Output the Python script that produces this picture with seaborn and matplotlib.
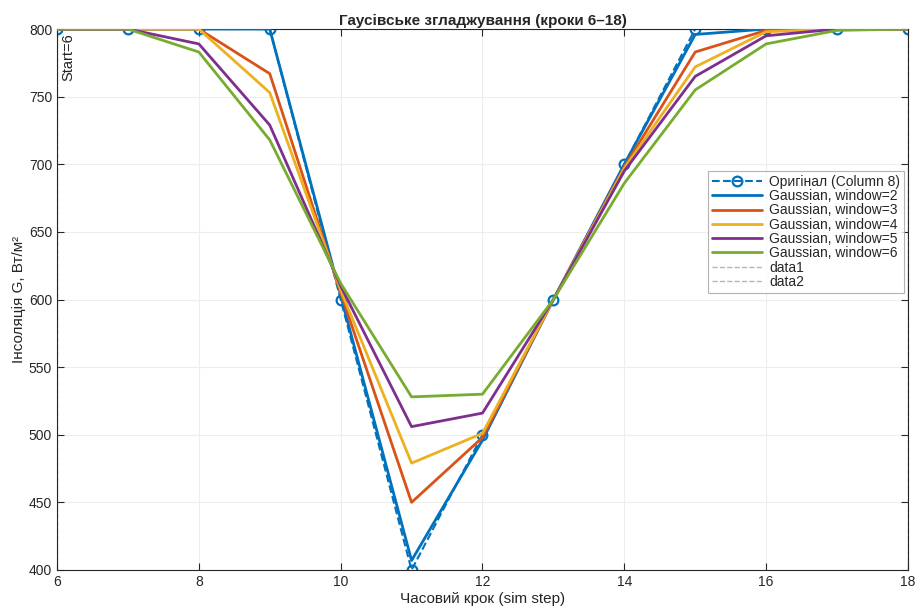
import matplotlib
matplotlib.use("Agg")
import matplotlib.pyplot as plt
import seaborn as sns

# Simulation steps and irradiance (W/m^2)
steps = [6, 7, 8, 9, 10, 11, 12, 13, 14, 15, 16, 17, 18]
original = [800, 800, 800, 800, 600, 400, 500, 600, 700, 800, 800, 800, 800]
gauss_w2 = [800, 800, 800, 800, 603, 407, 496, 600, 700, 796, 800, 800, 800]
gauss_w3 = [800, 800, 800, 767, 605, 450, 498, 600, 698, 783, 799, 800, 800]
gauss_w4 = [800, 800, 800, 753, 607, 479, 501, 600, 697, 772, 798, 800, 800]
gauss_w5 = [800, 800, 789, 729, 610, 506, 516, 600, 695, 765, 795, 800, 800]
gauss_w6 = [800, 800, 783, 718, 612, 528, 530, 600, 686, 755, 789, 799, 800]
windows = [2, 3, 4, 5, 6]
smoothed = [gauss_w2, gauss_w3, gauss_w4, gauss_w5, gauss_w6]
start_step = 6
end_step = 18

colors = ["#0072BD", "#D95319", "#EDB120", "#7E2F8E", "#77AC30"]

sns.set_style("ticks")
plt.rcParams["font.family"] = ["Liberation Sans", "DejaVu Sans"]

fig = plt.figure(figsize=(9.15, 6.1), dpi=100)
ax = fig.add_axes([0.0623, 0.0656, 0.930, 0.8868])

# raw series underneath, smoothed curves on top
sns.lineplot(x=steps, y=original, ax=ax, color=colors[0], linestyle="--",
             linewidth=1.5, marker="o", markersize=7, markerfacecolor="none",
             markeredgecolor=colors[0], markeredgewidth=1.6, zorder=2,
             label="Оригінал (Column 8)")
for w, vals, c in zip(windows, smoothed, colors):
    sns.lineplot(x=steps, y=vals, ax=ax, color=c, linewidth=2.0,
                 label=f"Gaussian, window={w}", zorder=3)

ax.axvline(start_step, color="#b5b5b5", linestyle="--", linewidth=1.0,
           label="data1", zorder=1)
ax.axvline(end_step, color="#b5b5b5", linestyle="--", linewidth=1.0,
           label="data2", zorder=1)
ax.annotate(f"Start={start_step}", xy=(start_step, 797), xytext=(3, 0),
            textcoords="offset points", rotation=90, ha="left", va="top",
            fontsize=10.5, color="#222222")

ax.set_xlim(6, 18)
ax.set_ylim(400, 800)
ax.set_xticks(range(6, 19, 2))
ax.set_yticks(range(400, 801, 50))
ax.grid(True, color="#ededed", linewidth=0.8)
ax.set_axisbelow(True)
for s in ax.spines.values():
    s.set_visible(True)
    s.set_color("#262626")
    s.set_linewidth(0.8)
ax.tick_params(direction="in", length=5, width=0.8, labelsize=10,
               colors="#262626", top=True, right=True)

ax.set_title("Гаусівське згладжування (кроки 6–18)", fontsize=11,
             fontweight="bold", pad=3)
ax.set_xlabel("Часовий крок (sim step)", fontsize=11, labelpad=2)
ax.set_ylabel("Інсоляція G, Вт/м²", fontsize=11, labelpad=2)

leg = ax.legend(loc="upper left", bbox_to_anchor=(0.765, 0.738),
                fontsize=10, frameon=True, fancybox=False, borderpad=0.3,
                labelspacing=0.02, handlelength=3.6, handletextpad=0.5,
                borderaxespad=0)
leg.get_frame().set_edgecolor("#a0a0a0")
leg.get_frame().set_linewidth(0.8)

fig.savefig("out.png", dpi=100)
